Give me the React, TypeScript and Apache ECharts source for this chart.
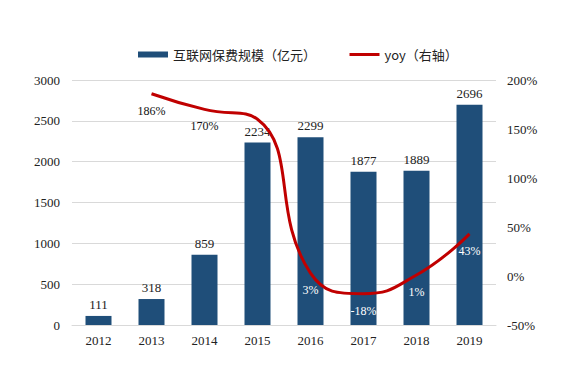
import React, { useEffect, useRef } from "react";
import * as echarts from "echarts";

const years = ["2012", "2013", "2014", "2015", "2016", "2017", "2018", "2019"];
const premium = [111, 318, 859, 2234, 2299, 1877, 1889, 2696];
const yoy: (number | null)[] = [null, 186, 170, 160, 3, -18, 1, 43];
const yoyLabels = ["", "186%", "170%", "", "3%", "-18%", "1%", "43%"];
const yoyLabelColors = ["#000", "#111", "#111", "#111", "#fff", "#fff", "#fff", "#fff"];

const serif = "'Liberation Serif', 'Times New Roman', serif";
const cjk = "'Noto Sans CJK SC', sans-serif";

export default function App() {
  const ref = useRef<HTMLDivElement>(null);
  useEffect(() => {
    if (!ref.current) return;
    const chart = echarts.init(ref.current, undefined, { renderer: "svg" });
    chart.setOption({
      animation: false,
      backgroundColor: "#fff",
      legend: {
        top: 43,
        left: 133,
        itemGap: 32,
        itemWidth: 30,
        itemHeight: 6,
        textStyle: { fontFamily: cjk, fontSize: 13, color: "#222" },
        data: [
          { name: "互联网保费规模（亿元）", icon: "rect" },
          { name: "yoy（右轴）", itemStyle: { opacity: 0 }, lineStyle: { width: 3, color: "#c00000" } },
        ],
      },
      grid: { left: 72, right: 79, top: 80, bottom: 57 },
      xAxis: {
        type: "category",
        data: years,
        axisTick: { show: false },
        axisLine: { lineStyle: { color: "#d9d9d9" } },
        axisLabel: { fontFamily: serif, fontSize: 13, color: "#222", margin: 9 },
      },
      yAxis: [
        {
          type: "value",
          min: 0,
          max: 3000,
          interval: 500,
          axisLine: { show: false },
          axisTick: { show: false },
          splitLine: { lineStyle: { color: "#d9d9d9" } },
          axisLabel: { fontFamily: serif, fontSize: 13, color: "#222", margin: 12, formatter: (v: number) => String(v) },
        },
        {
          type: "value",
          min: -50,
          max: 200,
          interval: 50,
          axisLine: { show: false },
          axisTick: { show: false },
          splitLine: { show: false },
          axisLabel: { fontFamily: serif, fontSize: 13, color: "#222", margin: 11, formatter: "{value}%" },
        },
      ],
      series: [
        {
          name: "互联网保费规模（亿元）",
          type: "bar",
          data: premium,
          barWidth: 26,
          itemStyle: { color: "#1f4e79" },
          label: { show: true, position: "top", distance: 5, fontFamily: serif, fontSize: 13, color: "#222" },
        },
        {
          name: "yoy（右轴）",
          type: "line",
          yAxisIndex: 1,
          smooth: 0.5,
          symbol: "none",
          lineStyle: { color: "#c00000", width: 3 },
          itemStyle: { color: "#c00000" },
          data: yoy,
        },
        {
          name: "yoyLabels",
          type: "scatter",
          yAxisIndex: 1,
          symbolSize: 0,
          silent: true,
          z: 5,
          itemStyle: { opacity: 1, color: "transparent" },
          data: yoy.map((v, i) => ({
            value: v,
            label: {
              show: yoyLabels[i] !== "",
              position: "bottom",
              distance: 11,
              formatter: yoyLabels[i],
              color: yoyLabelColors[i],
              opacity: 1,
              fontFamily: serif,
              fontSize: 12,
            },
          })),
        },
      ],
    });
    return () => chart.dispose();
  }, []);
  return <div ref={ref} style={{ position: "fixed", left: 0, top: 0, width: 575, height: 382 }} />;
}
